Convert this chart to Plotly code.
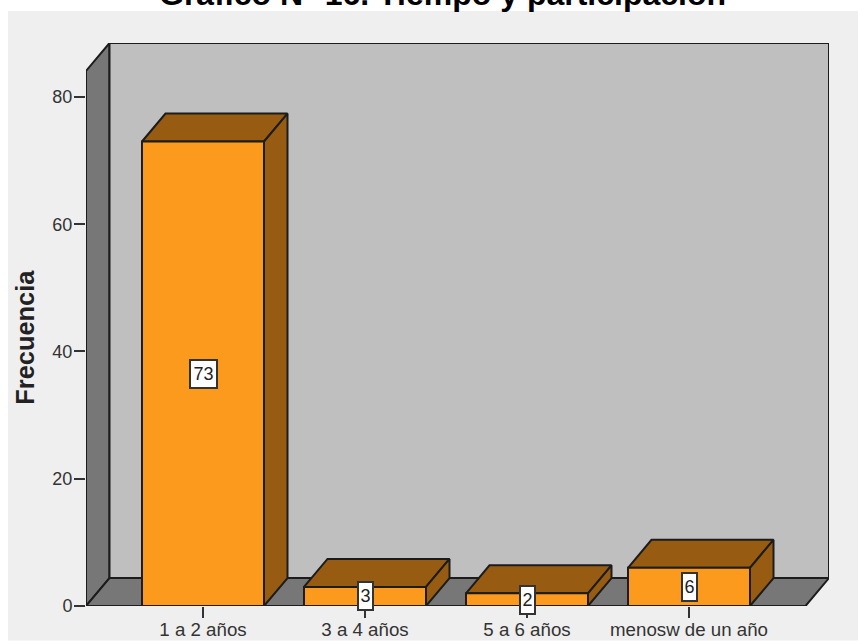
import plotly.graph_objects as go

categories = ["1 a 2 años", "3 a 4 años", "5 a 6 años", "menosw de un año"]
values = [73, 3, 2, 6]
y_ticks = [0, 20, 40, 60, 80]
title_text = "Gráfico N° 16. Tiempo y participación"
y_title = "Frecuencia"

W, H = 858, 641
L, R, T, B = 86, 829, 43, 606.5
PX_Y = (606.5 - 97) / 80
SLOT = 162.0
C0 = 203.0
DX = 23.5 / SLOT
DY = 28 / PX_Y
BW = 122 / SLOT / 2
x_min = (L - C0) / SLOT
x_max = (R - C0) / SLOT
y_max = (B - T) / PX_Y
x_front_r = x_max - DX
y_front_t = y_max - DY

LINE = "#1c1c1c"
WALL = "#bfbfbf"
GREY = "#777777"
FRONT = "#fb9a1d"
DARK = "#975c11"


def poly(xs, ys, fill):
    return go.Scatter(
        x=xs + xs[:1], y=ys + ys[:1], mode="lines", fill="toself", fillcolor=fill,
        line=dict(color=LINE, width=2), hoverinfo="skip", showlegend=False, cliponaxis=False,
    )


fig = go.Figure()
fig.add_trace(poly([x_min, x_min + DX, x_min + DX, x_min], [0, DY, y_max, y_front_t], GREY))
fig.add_trace(poly([x_min, x_front_r, x_max, x_min + DX], [0, 0, DY, DY], GREY))
fig.add_trace(poly([x_min + DX, x_max, x_max, x_min + DX], [DY, DY, y_max, y_max], WALL))

for i, v in enumerate(values):
    a, b = i - BW, i + BW
    fig.add_trace(poly([a, b, b + DX, a + DX], [v, v, v + DY, v + DY], DARK))
    fig.add_trace(poly([b, b + DX, b + DX, b], [0, DY, v + DY, v], DARK))
    fig.add_trace(poly([a, b, b, a], [0, 0, v, v], FRONT))
    fig.add_annotation(
        x=i, y=v / 2, text=str(v), showarrow=False, bgcolor="white", bordercolor="#333333",
        borderwidth=2, borderpad=1, width=23 if v >= 10 else 11, height=24,
        font=dict(family="Liberation Sans", size=18, color="#222222"),
    )

fig.add_annotation(
    xref="paper", yref="paper", x=(442 - L) / (R - L), y=1 + (T + 26) / (B - T),
    text=f"<b>{title_text}</b>", showarrow=False, xanchor="center", yanchor="top",
    font=dict(family="Liberation Sans", size=32, color="black"),
)
fig.add_annotation(
    xref="paper", yref="paper", x=(25 - L) / (R - L), y=(B - 338) / (B - T),
    text=f"<b>{y_title}</b>", textangle=-90, showarrow=False,
    xanchor="center", yanchor="middle",
    font=dict(family="Liberation Sans", size=25.4, color="#222222"),
)

fig.update_layout(
    width=W, height=H, autosize=False, showlegend=False,
    margin=dict(l=L, r=W - R, t=T, b=H - B, pad=0),
    paper_bgcolor="white", plot_bgcolor="rgba(0,0,0,0)",
    shapes=[dict(type="rect", xref="paper", yref="paper", layer="below", line_width=0,
                 fillcolor="#efefef",
                 x0=(8 - L) / (R - L), x1=(858 - L) / (R - L),
                 y0=(B - 641) / (B - T), y1=(B - 11) / (B - T))],
    xaxis=dict(range=[x_min, x_max], tickmode="array", tickvals=list(range(len(categories))),
               ticktext=categories, ticks="outside", ticklen=11, tickwidth=2, tickcolor="#333333",
               showgrid=False, zeroline=False, showline=False, automargin=False,
               ticklabelstandoff=-4,
               tickfont=dict(family="Liberation Sans", size=18.7, color="#333333")),
    yaxis=dict(range=[0, y_max], tickmode="array", tickvals=y_ticks, ticks="outside", ticklen=11,
               tickwidth=2, tickcolor="#333333", showgrid=False, zeroline=False, showline=False,
               automargin=False, ticklabelstandoff=-2,
               tickfont=dict(family="Liberation Sans", size=18, color="#333333")),
)

fig.write_html(
    "out.html",
    config={"displayModeBar": False},
    post_script="document.body.style.margin='0';document.body.style.overflow='hidden';",
)
